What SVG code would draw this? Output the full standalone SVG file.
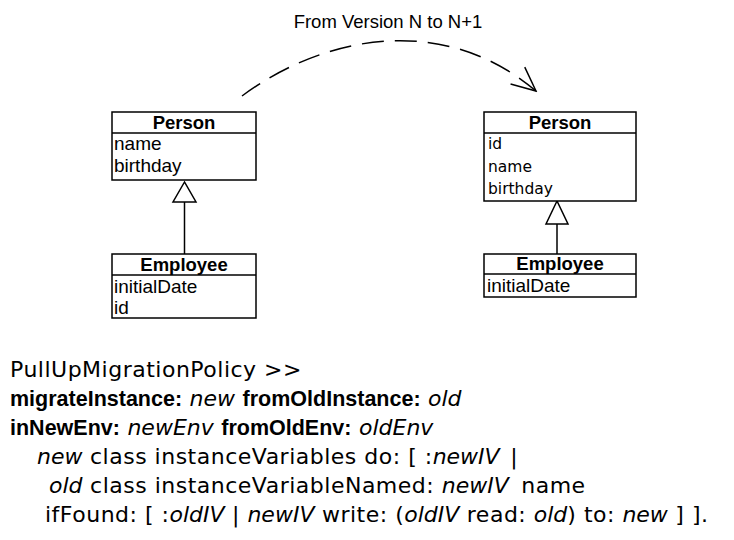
<svg xmlns="http://www.w3.org/2000/svg" width="734" height="540" viewBox="0 0 734 540">
<style>
.box{fill:#fff;stroke:#000;stroke-width:1.5}
.ln{stroke:#000;stroke-width:1.5;fill:none}
.tri{fill:#fff;stroke:#000;stroke-width:1.5}
.t{font-family:"Liberation Sans",Arial,sans-serif;font-size:19px;fill:#000}
.tb{font-family:"Liberation Sans",Arial,sans-serif;font-size:18.5px;font-weight:bold;fill:#000;text-anchor:middle}
.ta{font-family:"DejaVu Sans",sans-serif;font-size:15.5px;fill:#000}
.code{font-family:"DejaVu Sans",sans-serif;font-size:22px;letter-spacing:0.5px;fill:#000}
.b{font-family:"Liberation Sans",Arial,sans-serif;font-size:21.5px;font-weight:bold;letter-spacing:0}
.i{font-style:italic;letter-spacing:0}
.lbl{font-family:"Liberation Sans",Arial,sans-serif;font-size:18.5px;fill:#000}
</style>
<defs>
<marker id="open" viewBox="0 0 30 30" refX="28" refY="15" markerWidth="30" markerHeight="30" markerUnits="userSpaceOnUse" orient="auto">
<path d="M4,4 L28,15 L4,26" fill="none" stroke="#000" stroke-width="1.5"/>
</marker>
</defs>
<g id="connectors">
<path class="ln" d="M242,96 C320,38 440,10 536,91" stroke-dasharray="22,11" marker-end="url(#open)"/>
<line class="ln" x1="184.5" y1="202" x2="184.5" y2="254"/>
<polygon class="tri" points="184.5,182 173,202 196,202"/>
<line class="ln" x1="557" y1="224" x2="557" y2="254"/>
<polygon class="tri" points="557,201 546,224 568,224"/>
</g>
<text class="lbl" x="388" y="28" text-anchor="middle">From Version N to N+1</text>
<g id="person-old">
<rect class="box" x="112" y="112" width="144" height="68"/>
<line class="ln" x1="112" y1="133" x2="256" y2="133"/>
<text class="tb" x="184" y="129">Person</text>
<text class="t" x="114" y="150">name</text>
<text class="t" x="114" y="172">birthday</text>
</g>
<g id="employee-old">
<rect class="box" x="112" y="254" width="144" height="64"/>
<line class="ln" x1="112" y1="275" x2="256" y2="275"/>
<text class="tb" x="184" y="271">Employee</text>
<text class="t" x="114" y="293">initialDate</text>
<text class="t" x="114" y="314">id</text>
</g>
<g id="person-new">
<rect class="box" x="484" y="112" width="152" height="89"/>
<line class="ln" x1="484" y1="133" x2="636" y2="133"/>
<text class="tb" x="560" y="129">Person</text>
<text class="ta" x="488" y="149">id</text>
<text class="ta" x="488" y="172">name</text>
<text class="ta" x="488" y="194">birthday</text>
</g>
<g id="employee-new">
<rect class="box" x="484" y="254" width="152" height="43"/>
<line class="ln" x1="484" y1="274" x2="636" y2="274"/>
<text class="tb" x="560" y="270">Employee</text>
<text class="t" x="487" y="292">initialDate</text>
</g>
<g id="code">
<text class="code" x="10" y="377">PullUpMigrationPolicy &gt;&gt;</text>
<text class="code" x="10" y="406"><tspan class="b">migrateInstance:</tspan> <tspan class="i">new</tspan> <tspan class="b">fromOldInstance:</tspan> <tspan class="i">old</tspan></text>
<text class="code" x="10" y="435"><tspan class="b">inNewEnv:</tspan> <tspan class="i">newEnv</tspan> <tspan class="b">fromOldEnv:</tspan> <tspan class="i">oldEnv</tspan></text>
<text class="code" x="37" y="464"><tspan class="i">new</tspan> class instanceVariables do: [ :<tspan class="i">newIV</tspan> <tspan dx="3">|</tspan></text>
<text class="code" x="49" y="493"><tspan class="i">old</tspan> class instanceVariableNamed: <tspan class="i">newIV</tspan> <tspan dx="5">name</tspan></text>
<text class="code" x="45" y="522">ifFound: [ :<tspan class="i">oldIV</tspan> | <tspan class="i">newIV</tspan> write: (<tspan class="i">oldIV</tspan> read: <tspan class="i">old</tspan>) to: <tspan class="i">new</tspan> ] ].</text>
</g>
</svg>
